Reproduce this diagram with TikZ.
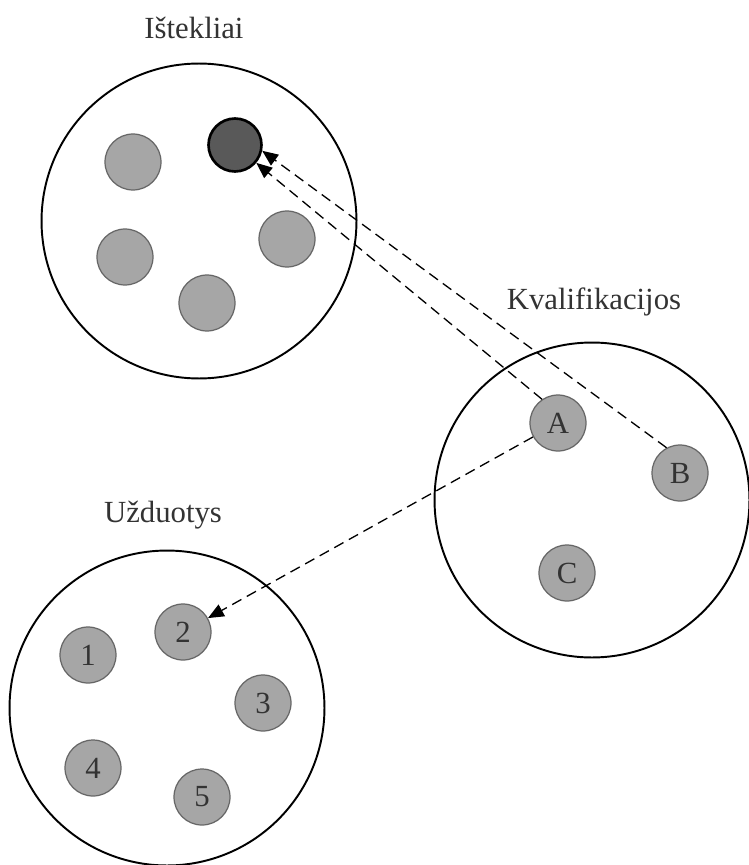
\documentclass[tikz,border=0pt]{standalone}
\usepackage{fontspec}
\setmainfont{Liberation Serif}
\usetikzlibrary{positioning}
\usetikzlibrary{arrows.meta}

\begin{document}
\begin{tikzpicture}[x=0.02cm, y=-0.02cm,
		font=\fontsize{17.5}{20}\selectfont,
		pool/.style={draw, circle, line width=1.1pt, minimum size=6.3cm, inner sep=0pt},
		elem/.style={draw=black!60, circle, fill=black!35, line width=0.7pt,
			minimum size=1.12cm, inner sep=0pt, text=black!80},
		busy/.style={elem, draw=black, fill=black!65, line width=1.5pt, minimum size=1.06cm},
		title/.style={text=black!80},
		link/.style={draw, dash pattern=on 6pt off 3.5pt, line width=0.75pt,
			-{Triangle[length=9pt,width=7.5pt]}}]
		\useasboundingbox (0,0) rectangle (748,865);
		%% Sets
		\node [pool] (res) at (199,221) {};
		\node [pool] (qual) at (592,500) {};
		\node [pool] (task) at (167,708) {};
		\node [title] at (194,28) {Ištekliai};
		\node [title] at (594,302) {Kvalifikacijos};
		\node [title] at (163,515) {Užduotys};
		%% Resources
		\node [elem] (r1) at (133,162) {};
		\node [busy] (r2) at (235,145) {};
		\node [elem] (r3) at (125,257) {};
		\node [elem] (r4) at (287,239) {};
		\node [elem] (r5) at (207,303) {};
		%% Qualifications
		\node [elem] (A) at (558,423) {A};
		\node [elem] (B) at (680,473) {B};
		\node [elem] (C) at (567,573) {C};
		%% Tasks
		\node [elem] (t1) at (88,655) {1};
		\node [elem] (t2) at (183,632) {2};
		\node [elem] (t3) at (263,703) {3};
		\node [elem] (t4) at (93,768) {4};
		\node [elem] (t5) at (202,797) {5};
		%% Links
		\path [link] (B.118) to (r2.-12);
		\path [link] (A.124) to (r2.-40);
		\path [link] (A) to (t2);
\end{tikzpicture}
\end{document}
